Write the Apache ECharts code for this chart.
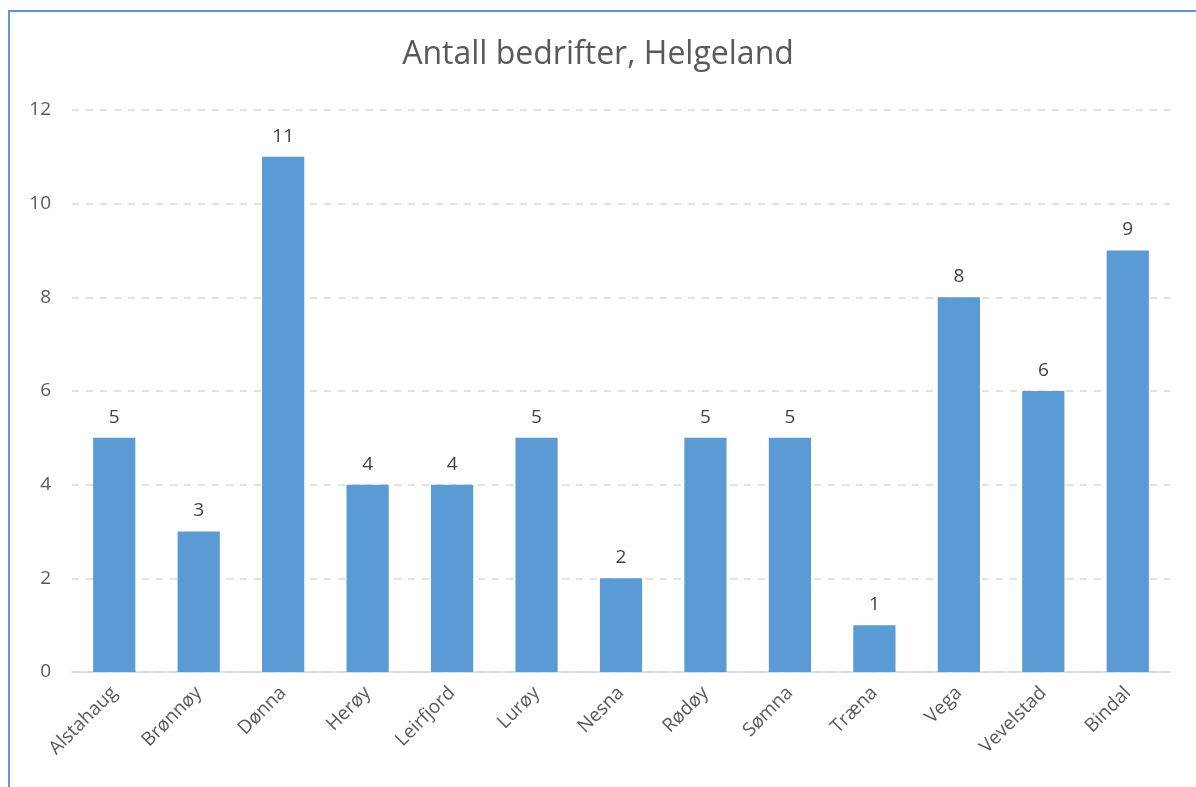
<!DOCTYPE html>
<html>
<head>
<meta charset="utf-8">
<script src="https://cdn.jsdelivr.net/npm/echarts@6/dist/echarts.min.js"></script>
<style>
  html, body { margin: 0; padding: 0; background: #fff; }
  #frame {
    position: absolute;
    left: 8px;
    top: 10px;
    width: 1300px;
    height: 900px;
    border-left: 2px solid #5b9bd5;
    border-top: 2px solid #5b9bd5;
  }
  #chart {
    position: absolute;
    left: 0;
    top: 0;
    width: 1196px;
    height: 787px;
  }
</style>
</head>
<body>
<div id="frame"></div>
<div id="chart"></div>
<script>
const kommuner = ["Alstahaug", "Brønnøy", "Dønna", "Herøy", "Leirfjord", "Lurøy", "Nesna", "Rødøy", "Sømna", "Træna", "Vega", "Vevelstad", "Bindal"];
const antall = [5, 3, 11, 4, 4, 5, 2, 5, 5, 1, 8, 6, 9];

const font = "'Open Sans', sans-serif";
const chart = echarts.init(document.getElementById("chart"));
chart.setOption({
  animation: false,
  backgroundColor: "transparent",
  title: {
    text: "Antall bedrifter, Helgeland",
    left: "center",
    top: 34,
    textStyle: { fontFamily: font, fontSize: 32, fontWeight: "normal", color: "#595959" }
  },
  grid: { left: 72, right: 26, top: 110, bottom: 115, containLabel: false },
  xAxis: {
    type: "category",
    data: kommuner,
    axisLine: { lineStyle: { color: "#d9d9d9", width: 1.5 } },
    axisTick: { show: false },
    axisLabel: {
      rotate: 45,
      interval: 0,
      margin: 18,
      fontFamily: font,
      fontSize: 19,
      color: "#595959"
    }
  },
  yAxis: {
    type: "value",
    min: 0,
    max: 12,
    interval: 2,
    axisLine: { show: false },
    axisTick: { show: false },
    axisLabel: { margin: 21, fontFamily: font, fontSize: 19, color: "#595959" },
    splitLine: { lineStyle: { color: "#d9d9d9", type: [7, 7], width: 1.5 } }
  },
  series: [{
    type: "bar",
    data: antall,
    barWidth: "50%",
    itemStyle: { color: "#5b9bd5" },
    label: {
      show: true,
      position: "top",
      distance: 11,
      fontFamily: font,
      fontSize: 19,
      color: "#404040"
    }
  }]
});
</script>
</body>
</html>
